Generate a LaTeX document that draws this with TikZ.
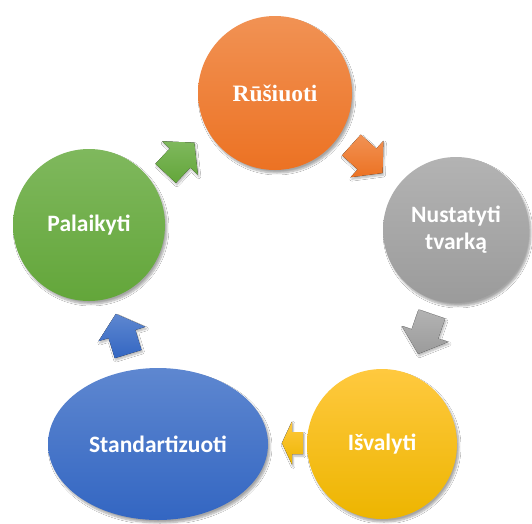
\documentclass[tikz,border=0pt]{standalone}
\usepackage{fontspec}
\setmainfont{Carlito}
\newfontfamily\titleserif{Liberation Serif}
\usetikzlibrary{shapes.geometric,shadows.blur}

% block arrow outline: shaft length, head length, shaft half width, head half width
\newcommand\arrowoutline[4]{(-#1,-#3) -- (0,-#3) -- (0,-#4) -- (#2,0) -- (0,#4) -- (0,#3) -- (-#1,#3) -- cycle}

\definecolor{orTop}{HTML}{F19254}
\definecolor{orBot}{HTML}{EC7223}
\definecolor{grTop}{HTML}{B3B3B3}
\definecolor{grBot}{HTML}{9B9B9B}
\definecolor{ylTop}{HTML}{FFC93F}
\definecolor{ylBot}{HTML}{EDB500}
\definecolor{blTop}{HTML}{5E87D0}
\definecolor{blBot}{HTML}{3366C2}
\definecolor{gnTop}{HTML}{7FB85D}
\definecolor{gnBot}{HTML}{63A63A}

\tikzset{
  stage/.style={circle, inner sep=0pt, align=center, text=white,
    font=\bfseries\fontsize{23.5}{27}\selectfont,
    blur shadow={shadow xshift=2pt, shadow yshift=-3pt, shadow blur steps=8, shadow opacity=35}},
  blockarrow/.style={blur shadow={shadow xshift=1pt, shadow yshift=-2pt, shadow blur steps=6, shadow opacity=30}},
}

\begin{document}
\begin{tikzpicture}[x=1pt, y=-1pt]
  \useasboundingbox[fill=white] (0,0) rectangle (532,523);

  % the five stages of the cycle
  \node[stage, minimum size=154pt, top color=orTop, bottom color=orBot,
        font=\titleserif\bfseries\fontsize{23.5}{27}\selectfont] (rus) at (275,93) {Rūšiuoti};
  \node[stage, minimum size=146pt, top color=grTop, bottom color=grBot] (nus) at (456,230) {Nustatyti\\tvarką};
  \node[stage, minimum size=150pt, top color=ylTop, bottom color=ylBot] (isv) at (382,444) {Išvalyti};
  \node[stage, ellipse, minimum width=220pt, minimum height=152pt, top color=blTop, bottom color=blBot] (std) at (158,444) {Standartizuoti};
  \node[stage, minimum size=152pt, top color=gnTop, bottom color=gnBot] (pal) at (89,225) {Palaikyti};

  % arrow anchors between neighbouring stages
  \coordinate (a1) at (367,159);
  \coordinate (a2) at (425,334);
  \coordinate (a3) at (292,443);
  \coordinate (a4) at (122,334);
  \coordinate (a5) at (180,158);

  \begin{scope}[shift={(a1)}, rotate=-42]
    \fill[blockarrow, top color=orTop, bottom color=orBot] \arrowoutline{21}{21}{14}{24.5};
  \end{scope}
  \begin{scope}[shift={(a2)}, rotate=-109]
    \fill[blockarrow, top color=grTop, bottom color=grBot] \arrowoutline{21}{21}{14}{24.5};
  \end{scope}
  \begin{scope}[shift={(a3)}, rotate=180]
    \fill[blockarrow, top color=ylTop, bottom color=ylBot] \arrowoutline{11}{10}{11}{21.5};
  \end{scope}
  \begin{scope}[shift={(a4)}, rotate=107]
    \fill[blockarrow, top color=blTop, bottom color=blBot] \arrowoutline{21}{21}{14}{24.5};
  \end{scope}
  \begin{scope}[shift={(a5)}, rotate=47]
    \fill[blockarrow, top color=gnTop, bottom color=gnBot] \arrowoutline{21}{21}{14}{24.5};
  \end{scope}
\end{tikzpicture}
\end{document}
